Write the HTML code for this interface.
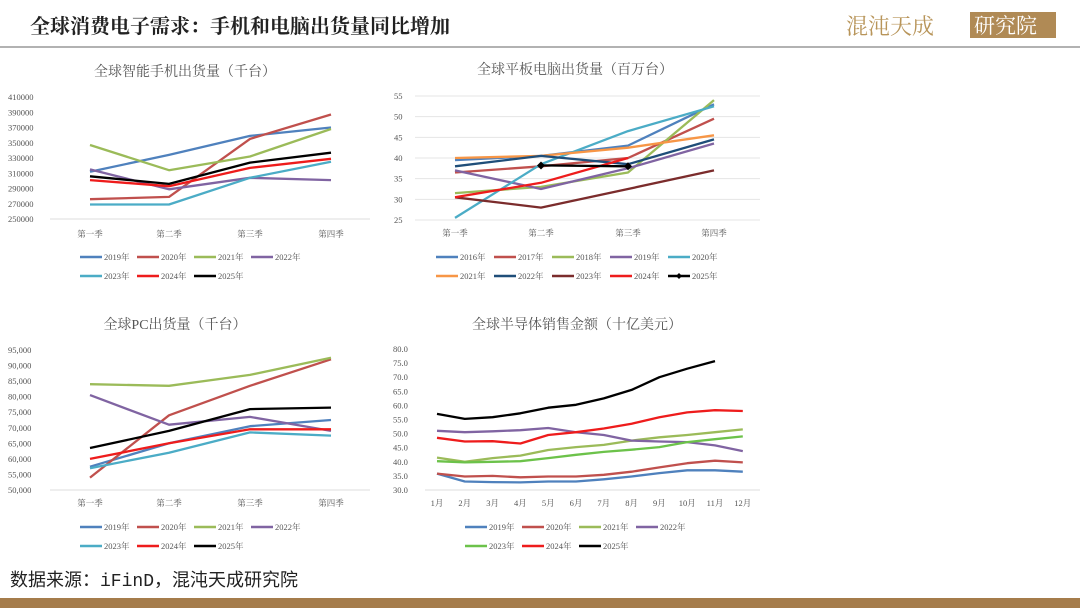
<!DOCTYPE html>
<html><head><meta charset="utf-8"><style>
body{margin:0;width:1080px;height:608px;background:#fff;overflow:hidden;font-family:"Liberation Serif","Noto Serif CJK SC",serif;}
svg{position:absolute;left:0;top:0}
</style></head><body>
<svg id="s" width="1080" height="608" viewBox="0 0 1080 608" xmlns="http://www.w3.org/2000/svg">
<text x="30" y="33" font-size="20" font-weight="bold" fill="#222" font-family="Noto Serif CJK SC, serif">全球消费电子需求：手机和电脑出货量同比增加</text>
<text x="846" y="34" font-size="22" fill="#b8955a" font-family="Noto Serif CJK SC, serif">混沌天成</text>
<rect x="970" y="12" width="86" height="26" fill="#b08a55"/>
<text x="974" y="33" font-size="21" fill="#fff" font-family="Noto Serif CJK SC, serif">研究院</text>
<line x1="0" y1="47" x2="1080" y2="47" stroke="#999" stroke-width="1.5"/>
<text x="10" y="586" font-size="18" fill="#222" font-family="Liberation Mono, Noto Sans CJK SC, monospace">数据来源：iFinD，混沌天成研究院</text>
<rect x="0" y="598" width="1080" height="10" fill="#a57c4b"/>
<g id="g"></g>
</svg>
<script>
const NS="http://www.w3.org/2000/svg",g=document.getElementById('g');
function el(t,a,txt){const e=document.createElementNS(NS,t);for(const k in a)e.setAttribute(k,a[k]);if(txt!=null)e.textContent=txt;g.appendChild(e);return e;}
const F="Liberation Serif, Noto Serif CJK SC, serif";
function chart(o){
 el('text',{x:o.tx,y:o.ty,'font-size':14,fill:'#555','text-anchor':'middle','font-family':F},o.title);
 const Y=v=>o.y0+(o.vmax-v)/(o.vmax-o.vmin)*(o.y1-o.y0);
 for(let v=o.vmin;v<=o.vmax+1e-9;v+=o.step){
  const y=Y(v);
  if(o.grid) el('line',{x1:o.gx0,x2:o.gx1,y1:y,y2:y,stroke:'#e4e4e4'});
  el('text',{x:o.lx,y:y+3,'font-size':8.5,fill:'#555','text-anchor':o.anchor||'start','font-family':F},o.fmt(v));
 }
 if(!o.grid) el('line',{x1:o.gx0,x2:o.gx1,y1:o.y1,y2:o.y1,stroke:'#ddd'});
 o.cats.forEach((c,i)=>el('text',{x:o.xs[i],y:o.cy,'font-size':8.5,fill:'#555','text-anchor':'middle','font-family':F},c));
 o.series.forEach(s=>{
  let pts=[];s.d.forEach((v,i)=>{if(v!=null)pts.push(o.xs[i]+','+Y(v).toFixed(1));});
  el('polyline',{points:pts.join(' '),fill:'none',stroke:s.c,'stroke-width':2.3,'stroke-linejoin':'round'});
  if(s.m) s.d.forEach((v,i)=>{if(v!=null)el('path',{d:`M${o.xs[i]} ${Y(v)-4}l4 4l-4 4l-4 -4z`,fill:'#000'});});
 });
 o.leg.forEach((row,r)=>{row.forEach((si,k)=>{const s=o.series[si];const x=o.legx+k*o.legw,y=o.legy+r*19;
  el('line',{x1:x,x2:x+22,y1:y,y2:y,stroke:s.c,'stroke-width':2.5});
  if(s.m) el('path',{d:`M${x+11} ${y-3}l3 3l-3 3l-3 -3z`,fill:'#000'});
  el('text',{x:x+24,y:y+3,'font-size':8.5,fill:'#555','font-family':F},s.n);});});
}
const B='#4f81bd',R='#c0504d',G='#9bbb59',P='#8064a2',C='#4bacc6',RR='#ee1c1c',K='#000';
const Q=['第一季','第二季','第三季','第四季'];
chart({title:'全球智能手机出货量（千台）',tx:185,ty:76,vmin:250000,vmax:410000,step:20000,y0:97,y1:219,lx:8,fmt:v=>v,gx0:50,gx1:370,cats:Q,xs:[90,169,250,331],cy:237,
 series:[{n:'2019年',c:B,d:[312000,334000,359000,370000]},{n:'2020年',c:R,d:[276000,279000,355000,387000]},{n:'2021年',c:G,d:[347000,314000,332000,368000]},{n:'2022年',c:P,d:[315000,289000,304000,301000]},{n:'2023年',c:C,d:[269000,269000,304000,325000]},{n:'2024年',c:RR,d:[301000,293000,317000,329000]},{n:'2025年',c:K,d:[306000,296000,324000,337000]}],
 leg:[[0,1,2,3],[4,5,6]],legx:80,legw:57,legy:257});
chart({title:'全球平板电脑出货量（百万台）',tx:575,ty:74,vmin:25,vmax:55,step:5,y0:96,y1:220,lx:394,fmt:v=>v,grid:1,gx0:415,gx1:760,cats:Q,xs:[455,541,628,714],cy:236,
 series:[{n:'2016年',c:B,d:[39.5,40.5,43,53]},{n:'2017年',c:R,d:[36.5,38,40,49.5]},{n:'2018年',c:G,d:[31.5,33,36.5,54]},{n:'2019年',c:P,d:[37,32.5,37.5,43.5]},{n:'2020年',c:C,d:[25.5,38.5,46.5,52.5]},{n:'2021年',c:'#f79646',d:[40,40.5,42.5,45.5]},{n:'2022年',c:'#1f4e79',d:[38,40.5,38.5,44.5]},{n:'2023年',c:'#7b2c2c',d:[30.5,28,32.5,37]},{n:'2024年',c:RR,d:[30.5,34,40,null]},{n:'2025年',c:K,m:1,d:[null,38.2,38,null]}],
 leg:[[0,1,2,3,4],[5,6,7,8,9]],legx:436,legw:58,legy:257});
chart({title:'全球PC出货量（千台）',tx:175,ty:329,vmin:50000,vmax:95000,step:5000,y0:350,y1:490,lx:8,fmt:v=>(v/1000)+',000',gx0:50,gx1:370,cats:Q,xs:[90,169,250,331],cy:506,
 series:[{n:'2019年',c:B,d:[57500,65000,70500,72500]},{n:'2020年',c:R,d:[54000,74000,83500,92000]},{n:'2021年',c:G,d:[84000,83500,87000,92500]},{n:'2022年',c:P,d:[80500,71000,73500,69000]},{n:'2023年',c:C,d:[57000,62000,68500,67500]},{n:'2024年',c:RR,d:[60000,65000,69500,69500]},{n:'2025年',c:K,d:[63500,69000,76000,76500]}],
 leg:[[0,1,2,3],[4,5,6]],legx:80,legw:57,legy:527});
const M=[];for(let i=1;i<=12;i++)M.push(i+'月');
const xs4=M.map((_,i)=>437+i*27.8);
chart({title:'全球半导体销售金额（十亿美元）',tx:577,ty:329,vmin:30,vmax:80,step:5,y0:349,y1:490,lx:393,fmt:v=>v.toFixed(1),gx0:425,gx1:760,cats:M,xs:xs4,cy:506,
 series:[{n:'2019年',c:B,d:[35.8,33,32.8,32.7,33,33,33.8,34.8,36,37,37,36.5]},{n:'2020年',c:R,d:[35.8,34.8,35,34.5,34.8,34.8,35.4,36.5,38,39.5,40.4,39.8]},{n:'2021年',c:G,d:[41.5,40,41.3,42.2,44.2,45.2,46,47.5,48.7,49.5,50.5,51.5]},{n:'2022年',c:P,d:[51,50.5,50.8,51.2,52,50.5,49.5,47.5,47.2,47,45.8,43.8]},{n:'2023年',c:'#6cc24a',d:[40.2,39.8,40,40.2,41.3,42.5,43.5,44.3,45.2,47,48,49]},{n:'2024年',c:RR,d:[48.5,47.2,47.3,46.5,49.5,50.5,51.8,53.5,55.8,57.5,58.3,58]},{n:'2025年',c:K,d:[57,55.2,55.8,57.2,59.2,60.2,62.5,65.5,70,73,75.7,null]}],
 leg:[[0,1,2,3],[4,5,6]],legx:465,legw:57,legy:527});
</script>
</body></html>
